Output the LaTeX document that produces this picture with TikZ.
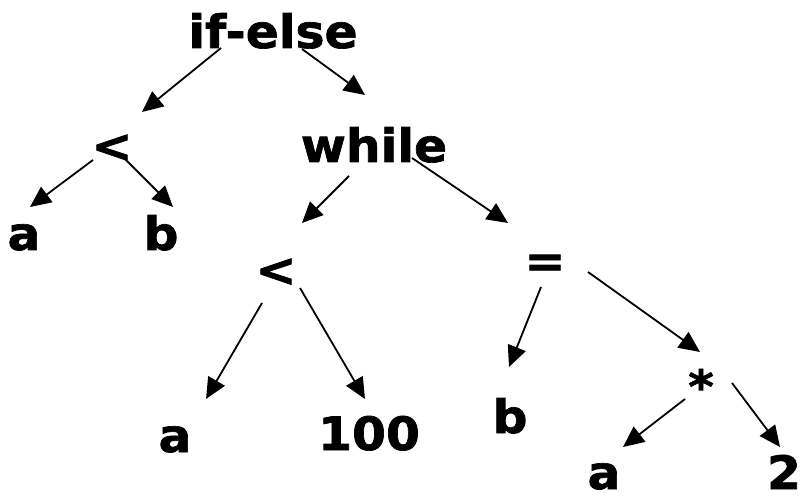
\documentclass[tikz,border=0pt]{standalone}
\usepackage{fontspec}
\setmainfont{DejaVu Sans}[BoldFeatures={FakeStretch=1.06, FakeBold=1.5}]
\usetikzlibrary{arrows.meta, calc}

\begin{document}
\begin{tikzpicture}[x=1pt, y=-1pt,
    % Define the style for the tree labels
    lbl/.style={anchor=base, inner sep=0pt, font=\fontsize{46}{55}\selectfont\bfseries},
    % Define the style for the arrows
    arr/.style={line width=1.8pt, -{Triangle[length=21pt, width=19pt]}}
]

\useasboundingbox (0,0) rectangle (801,497);

% Place the labels of the tree
\node[lbl] (ifelse) at (273,48) {if-else};
\node[lbl] (lt1) at (112,162) {<};
\node[lbl] (while) at (374,162) {while};
\node[lbl] (a1) at (24,250) {a};
\node[lbl] (b1) at (161,250) {b};
\node[lbl] (lt2) at (276,286) {<};
\node[lbl] (eq) at (545,277) {=};
\node[lbl] (a2) at (175,452) {a};
\node[lbl] (n100) at (369,450) {100};
\node[lbl] (b2) at (510,433) {b};
\node[lbl] (star) at (701,403) {*};
\node[lbl] (a3) at (604,489) {a};
\node[lbl] (two) at (784,489) {2};

% Draw the arrows from parent to child
\draw[arr] ($(ifelse.base)+(-52,0)$) -- ($(lt1.base)+(30,-50)$);
\draw[arr] ($(ifelse.base)+(29,1)$) -- ($(while.base)+(-9,-67)$);
\draw[arr] ($(lt1.base)+(-19,-2)$) -- ($(a1.base)+(6,-43)$);
\draw[arr] ($(lt1.base)+(13,-3)$) -- ($(b1.base)+(12,-43)$);
\draw[arr] ($(while.base)+(-25,14)$) -- ($(lt2.base)+(26,-63)$);
\draw[arr] ($(while.base)+(38,-4)$) -- ($(eq.base)+(-37,-54)$);
\draw[arr] ($(lt2.base)+(-14,17)$) -- ($(a2.base)+(31,-53)$);
\draw[arr] ($(lt2.base)+(24,2)$) -- ($(n100.base)+(-4,-51)$);
\draw[arr] ($(eq.base)+(-4,10)$) -- ($(b2.base)+(-1,-66)$);
\draw[arr] ($(eq.base)+(43,-5)$) -- ($(star.base)+(-1,-51)$);
\draw[arr] ($(star.base)+(-16,-4)$) -- ($(a3.base)+(19,-42)$);
\draw[arr] ($(star.base)+(31,-20)$) -- ($(two.base)+(-4,-42)$);

\end{tikzpicture}
\end{document}
